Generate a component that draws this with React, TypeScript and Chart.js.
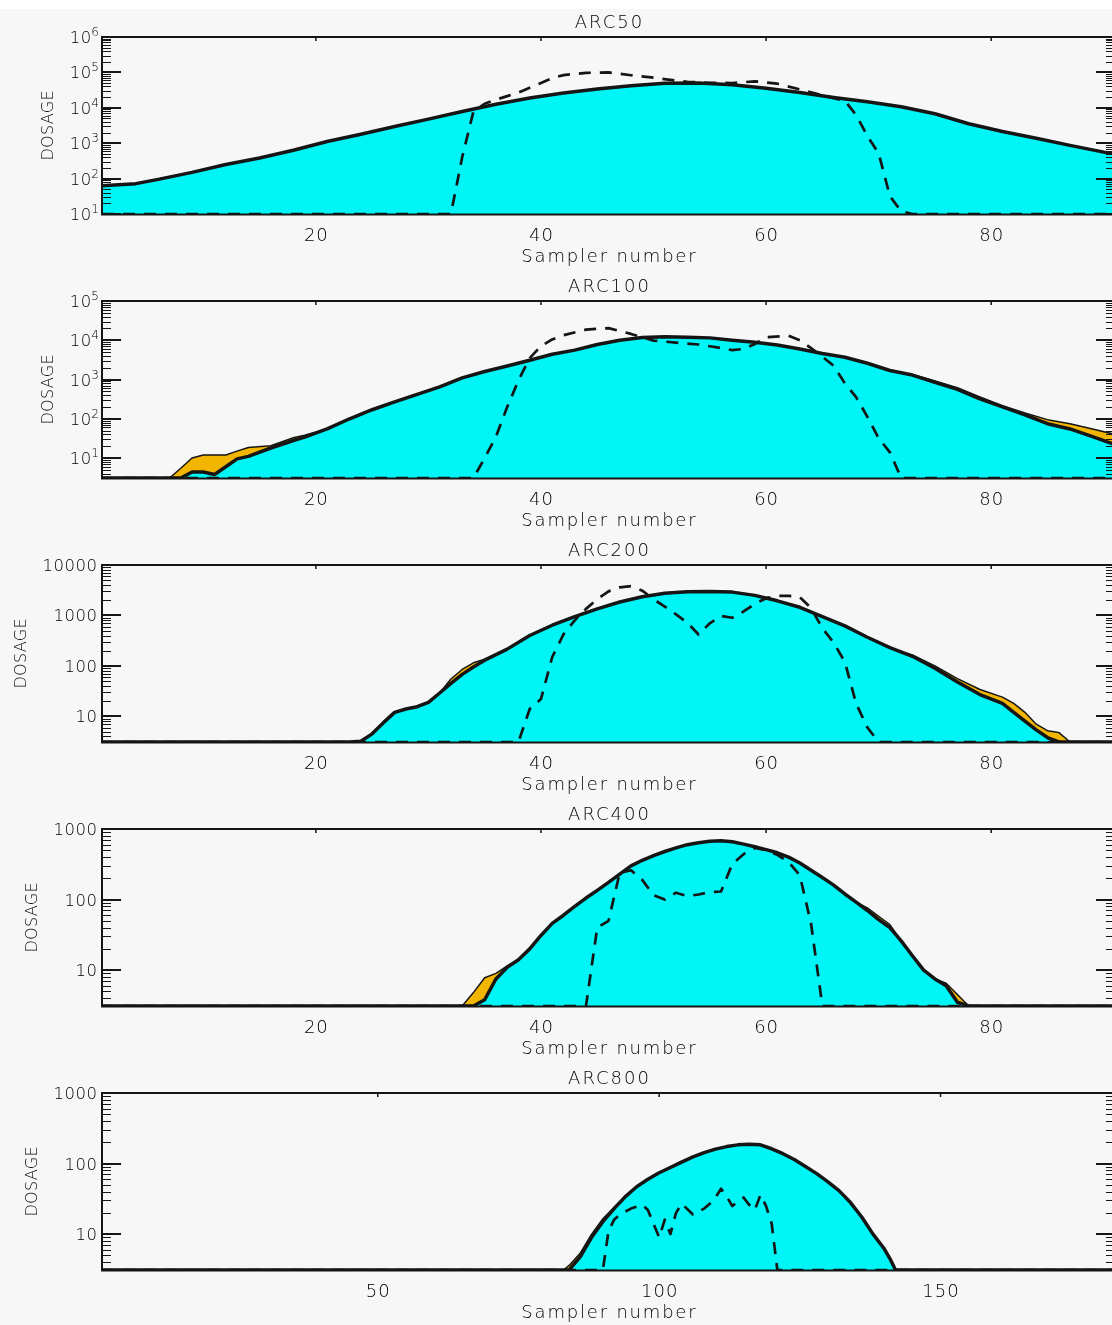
import React, { useEffect, useRef } from "react";
import { Chart, registerables } from "chart.js";

Chart.register(...registerables);

// ---------------- data (sampler number -> dosage; 0 = nothing measured / below axis) ----------------
const xTicksArc = [20, 40, 60, 80];
const xTicksArc800 = [50, 100, 150];

// ARC50
const arc50YTicks = [10, 100, 1000, 10000, 100000, 1000000];
const arc50ModelX = [1, 4, 6, 9, 12, 15, 18, 21, 24, 27, 30, 33, 36, 39, 42, 45, 48, 51, 54, 57, 60, 63, 66, 69, 72, 75, 78, 81, 84, 87, 90, 91];
const arc50ModelY = [63, 72, 95, 150, 250, 380, 630, 1120, 1780, 2950, 4800, 7900, 12600, 19000, 26300, 33900, 41700, 49000, 50100, 44700, 35500, 26900, 19500, 14800, 10700, 6800, 3550, 2140, 1380, 870, 560, 500];
const arc50UpperX = [1, 4, 6, 9, 12, 15, 18, 21, 24, 27, 30, 33, 36, 39, 42, 45, 48, 51, 54, 57, 60, 63, 66, 69, 72, 75, 78, 81, 84, 87, 90, 91];
const arc50UpperY = [64, 73, 97, 152, 255, 385, 640, 1130, 1800, 2980, 4850, 7950, 12700, 19100, 26400, 34000, 41800, 49100, 50200, 44800, 35600, 27000, 19600, 14900, 10800, 6850, 3600, 2170, 1400, 880, 570, 510];
const arc50ObsX = [1, 32, 33, 34, 35, 36, 37, 38, 39, 40, 41, 42, 44, 46, 48, 50, 52, 53, 55, 57, 59, 61, 63, 65, 67, 68, 69, 70, 71, 72, 73, 91];
const arc50ObsY = [0, 0, 400, 7900, 13000, 17000, 21400, 27000, 37000, 50000, 69000, 84000, 97000, 100000, 83000, 71000, 59000, 54000, 51000, 50000, 56000, 48000, 33000, 22400, 15800, 6300, 1600, 520, 32, 12, 0, 0];

// ARC100
const arc100YTicks = [10, 100, 1000, 10000, 100000];
const arc100ModelX = [1, 8, 9, 10, 11, 12, 13, 14, 16, 18, 19, 21, 23, 25, 27, 29, 31, 33, 35, 37, 39, 41, 43, 45, 47, 49, 51, 53, 55, 57, 59, 61, 63, 65, 67, 69, 71, 73, 75, 77, 79, 81, 83, 85, 87, 89, 91];
const arc100ModelY = [0, 0, 4.4, 4.4, 3.8, 6, 9.5, 11, 18, 28, 34, 55, 100, 170, 270, 420, 650, 1100, 1600, 2200, 3100, 4400, 5600, 7800, 10000, 11800, 12300, 12000, 11500, 10000, 8900, 7600, 6000, 4600, 3700, 2600, 1700, 1300, 850, 560, 320, 200, 125, 75, 55, 35, 22];
const arc100UpperX = [1, 7, 8, 9, 10, 12, 13, 14, 16, 17, 18, 19, 21, 23, 25, 27, 29, 31, 33, 35, 37, 39, 41, 43, 45, 47, 49, 51, 53, 55, 57, 59, 61, 63, 65, 67, 69, 71, 73, 75, 77, 79, 81, 83, 85, 87, 89, 91];
const arc100UpperY = [0, 0, 5.5, 10, 12, 12, 15, 18.6, 20.5, 26, 33, 38, 55, 100, 170, 270, 420, 650, 1100, 1600, 2200, 3100, 4400, 5600, 7800, 10000, 11800, 12300, 12000, 11500, 10000, 8900, 7600, 6000, 4600, 3700, 2600, 1700, 1350, 920, 620, 360, 215, 140, 95, 75, 55, 40];
const arc100ObsX = [1, 34, 35, 36, 37, 38, 39, 40, 41, 42, 44, 46, 48, 50, 52, 54, 56, 57, 58, 59, 60, 62, 63, 64, 65, 66, 67, 68, 69, 70, 71, 72, 91];
const arc100ObsY = [0, 0, 10, 35, 200, 950, 3500, 7100, 10500, 13500, 18600, 20400, 14500, 9800, 8700, 7800, 6300, 5600, 6000, 8000, 12000, 13000, 10000, 6300, 3800, 2240, 800, 355, 112, 32, 14, 0, 0];

// ARC200
const arc200YTicks = [10, 100, 1000, 10000];
const arc200ModelX = [1, 23, 24, 25, 26, 27, 28, 29, 30, 31, 32, 33, 34, 35, 37, 39, 41, 43, 45, 47, 49, 51, 53, 55, 57, 59, 61, 63, 65, 67, 69, 71, 73, 75, 77, 79, 81, 82, 83, 84, 85, 86, 91];
const arc200ModelY = [0, 0, 3.2, 4.5, 7.5, 12, 14, 15.5, 19, 29, 45, 68, 95, 130, 215, 400, 640, 950, 1350, 1850, 2350, 2750, 2950, 3000, 2900, 2500, 1950, 1450, 950, 620, 370, 230, 155, 90, 48, 27, 18, 12, 8, 5.4, 3.8, 0, 0];
const arc200UpperX = [1, 23, 24, 25, 26, 27, 28, 29, 30, 31, 32, 33, 34, 35, 37, 39, 41, 43, 45, 47, 49, 51, 53, 55, 57, 59, 61, 63, 65, 67, 69, 71, 73, 75, 77, 79, 81, 82, 83, 84, 85, 86, 87, 91];
const arc200UpperY = [0, 0, 3.2, 4.5, 7.5, 12, 14, 15.5, 19, 29, 55, 85, 115, 135, 215, 400, 640, 950, 1350, 1850, 2350, 2750, 2950, 3000, 2900, 2500, 1950, 1450, 950, 620, 370, 230, 165, 100, 56, 34, 24, 18, 12, 7, 5.2, 4.8, 0, 0];
const arc200ObsX = [1, 38, 39, 40, 41, 42, 43, 44, 45, 46, 47, 48, 49, 50, 51, 52, 53, 54, 55, 56, 57, 58, 59, 60, 61, 62, 63, 64, 65, 66, 67, 68, 69, 70, 91];
const arc200ObsY = [0, 0, 14, 22, 150, 420, 800, 1350, 2100, 3000, 3600, 3800, 3100, 2100, 1500, 1050, 720, 420, 700, 980, 900, 1200, 1700, 2200, 2450, 2450, 2300, 1400, 560, 290, 120, 18, 6, 0, 0];

// ARC400
const arc400YTicks = [10, 100, 1000];
const arc400ModelX = [1, 34, 35, 36, 37, 38, 39, 40, 41, 42, 43, 44, 45, 46, 47, 48, 49, 50, 51, 52, 53, 54, 55, 56, 57, 58, 59, 60, 61, 62, 63, 64, 65, 66, 67, 68, 69, 70, 71, 72, 73, 74, 75, 76, 77, 78, 91];
const arc400ModelY = [0, 0, 3.8, 7.5, 11, 14, 20, 31, 46, 60, 80, 105, 135, 175, 230, 300, 360, 420, 480, 540, 600, 640, 670, 680, 660, 610, 560, 510, 460, 400, 330, 260, 205, 160, 120, 92, 70, 52, 40, 26, 16, 10, 7.5, 6, 3.5, 0, 0];
const arc400UpperX = [1, 33, 34, 35, 36, 37, 38, 39, 40, 41, 42, 43, 44, 45, 46, 47, 48, 49, 50, 51, 52, 53, 54, 55, 56, 57, 58, 59, 60, 61, 62, 63, 64, 65, 66, 67, 68, 69, 70, 71, 72, 73, 74, 75, 76, 77, 78, 91];
const arc400UpperY = [0, 0, 4.8, 7.8, 9, 11.5, 14, 20, 31, 46, 60, 80, 105, 135, 175, 230, 300, 360, 420, 480, 540, 600, 640, 670, 680, 660, 610, 560, 510, 460, 400, 330, 260, 205, 160, 120, 92, 76, 58, 44, 26, 16, 10, 7.5, 6.5, 4.5, 0, 0];
const arc400ObsX = [1, 44, 45, 46, 47, 48, 49, 50, 51, 52, 53, 54, 55, 56, 57, 58, 59, 60, 61, 62, 63, 64, 65, 91];
const arc400ObsY = [0, 0, 40, 50, 240, 260, 190, 115, 100, 125, 112, 118, 128, 130, 320, 440, 540, 500, 430, 340, 220, 45, 0, 0];

// ARC800
const arc800YTicks = [10, 100, 1000];
const arc800ModelX = [1, 84, 86, 88, 90, 92, 94, 96, 98, 100, 102, 104, 106, 108, 110, 112, 114, 116, 118, 120, 122, 124, 126, 128, 130, 132, 134, 136, 138, 140, 141, 142, 181];
const arc800ModelY = [0, 0, 4.8, 9, 15, 23, 34, 47, 60, 74, 88, 105, 124, 143, 160, 174, 184, 188, 184, 162, 138, 114, 91, 72, 55, 41, 28, 17.5, 10, 6.2, 4.5, 0, 0];
const arc800UpperX = [1, 83, 84, 86, 88, 90, 92, 94, 96, 98, 100, 102, 104, 106, 108, 110, 112, 114, 116, 118, 120, 122, 124, 126, 128, 130, 132, 134, 136, 138, 140, 141, 142, 181];
const arc800UpperY = [0, 0, 3.6, 5.4, 10, 16.5, 24, 35, 47, 60, 74, 90, 108, 124, 143, 160, 174, 184, 188, 184, 162, 138, 114, 91, 72, 55, 41, 28, 17.5, 10, 6.2, 4.5, 0, 0];
const arc800ObsX = [1, 90, 91, 92, 93, 95, 97, 98, 99, 100, 101, 102, 103, 104, 106, 108, 109, 110, 111, 112, 113, 114, 115, 116, 117, 118, 119, 120, 121, 181];
const arc800ObsY = [0, 0, 11, 16, 19, 23, 26, 22, 14, 9, 16, 10, 20, 27, 19, 23, 27, 33, 44, 34, 25, 29, 33, 26, 22, 36, 25, 14, 0, 0];

// ---------------- panel definitions ----------------
type Panel = {
  title: string;
  xMin: number;
  xMax: number;
  yMin: number;
  yMax: number;
  xTicks: number[];
  yTicks: number[];
  supLabels: boolean;
  modelX: number[];
  modelY: number[];
  upperX: number[];
  upperY: number[];
  obsX: number[];
  obsY: number[];
};

const PANELS: Panel[] = [
  { title: "ARC50", xMin: 1, xMax: 91, yMin: 10, yMax: 1e6, xTicks: xTicksArc, yTicks: arc50YTicks, supLabels: true,
    modelX: arc50ModelX, modelY: arc50ModelY, upperX: arc50UpperX, upperY: arc50UpperY, obsX: arc50ObsX, obsY: arc50ObsY },
  { title: "ARC100", xMin: 1, xMax: 91, yMin: 3.1, yMax: 1e5, xTicks: xTicksArc, yTicks: arc100YTicks, supLabels: true,
    modelX: arc100ModelX, modelY: arc100ModelY, upperX: arc100UpperX, upperY: arc100UpperY, obsX: arc100ObsX, obsY: arc100ObsY },
  { title: "ARC200", xMin: 1, xMax: 91, yMin: 3.1, yMax: 1e4, xTicks: xTicksArc, yTicks: arc200YTicks, supLabels: false,
    modelX: arc200ModelX, modelY: arc200ModelY, upperX: arc200UpperX, upperY: arc200UpperY, obsX: arc200ObsX, obsY: arc200ObsY },
  { title: "ARC400", xMin: 1, xMax: 91, yMin: 3.1, yMax: 1e3, xTicks: xTicksArc, yTicks: arc400YTicks, supLabels: false,
    modelX: arc400ModelX, modelY: arc400ModelY, upperX: arc400UpperX, upperY: arc400UpperY, obsX: arc400ObsX, obsY: arc400ObsY },
  { title: "ARC800", xMin: 1, xMax: 181, yMin: 3.1, yMax: 1e3, xTicks: xTicksArc800, yTicks: arc800YTicks, supLabels: false,
    modelX: arc800ModelX, modelY: arc800ModelY, upperX: arc800UpperX, upperY: arc800UpperY, obsX: arc800ObsX, obsY: arc800ObsY },
];

const CYAN = "rgb(0,246,246)";
const ORANGE = "rgb(243,182,0)";
const INK = "#151515";
const TEXT_INK = "#000000";
const BG = "#f7f7f7";
const FONT = '"DejaVu Sans", sans-serif';
const WEIGHT = "200";

const CANVAS_W = 1120;
const CANVAS_H = 264;

function toPoints(xs: number[], ys: number[], floor: number) {
  return xs.map((x, i) => ({ x, y: ys[i] > floor ? ys[i] : floor }));
}

function setFont(ctx: CanvasRenderingContext2D, size: number, spacing: number) {
  ctx.font = `${WEIGHT} ${size}px ${FONT}`;
  (ctx as any).letterSpacing = `${spacing}px`;
}

function drawText(
  ctx: CanvasRenderingContext2D,
  s: string,
  x: number,
  y: number,
  size: number,
  align: CanvasTextAlign,
  spacing: number
) {
  setFont(ctx, size, spacing);
  ctx.fillStyle = TEXT_INK;
  ctx.textAlign = align;
  ctx.textBaseline = "alphabetic";
  const shift = align === "center" ? spacing / 2 : align === "right" ? spacing : 0;
  ctx.fillText(s, x + shift, y);
  (ctx as any).letterSpacing = "0px";
}

function measure(ctx: CanvasRenderingContext2D, s: string, size: number, spacing: number) {
  setFont(ctx, size, spacing);
  const w = ctx.measureText(s).width;
  (ctx as any).letterSpacing = "0px";
  return w;
}

function makeIdlPlugin(p: Panel) {
  return {
    id: "idlAxes",
    afterDatasetsDraw(chart: any) {
      const ctx = chart.ctx as CanvasRenderingContext2D;
      const a = chart.chartArea;
      const xs = chart.scales.x;
      const ys = chart.scales.y;
      ctx.save();
      ctx.strokeStyle = INK;
      ctx.fillStyle = INK;
      ctx.lineCap = "butt";

      // frame
      ctx.lineWidth = 2;
      ctx.beginPath();
      ctx.moveTo(a.left, a.bottom);
      ctx.lineTo(a.left, a.top);
      ctx.lineTo(a.right, a.top);
      ctx.lineTo(a.right, a.bottom);
      ctx.stroke();
      ctx.lineWidth = 2;
      ctx.beginPath();
      ctx.moveTo(a.left - 1, a.bottom + 0.5);
      ctx.lineTo(a.right + 1, a.bottom + 0.5);
      ctx.stroke();

      // y ticks (inward, both sides), log minor ticks
      const e0 = Math.floor(Math.log10(p.yMin));
      const e1 = Math.floor(Math.log10(p.yMax));
      for (let e = e0; e <= e1; e++) {
        for (let k = 1; k <= 9; k++) {
          const v = k * Math.pow(10, e);
          if (v < p.yMin * 0.9999 || v > p.yMax * 1.0001) continue;
          const y = ys.getPixelForValue(v);
          const major = k === 1;
          const len = major ? 19 : 9;
          ctx.lineWidth = major ? 2 : 1;
          const yy = major ? Math.round(y) : Math.round(y) + 0.5;
          ctx.beginPath();
          ctx.moveTo(a.left, yy);
          ctx.lineTo(a.left + len, yy);
          ctx.moveTo(a.right, yy);
          ctx.lineTo(a.right - len, yy);
          ctx.stroke();
        }
      }

      // x ticks on the top axis
      ctx.lineWidth = 1.5;
      for (const v of p.xTicks) {
        const x = xs.getPixelForValue(v);
        ctx.beginPath();
        ctx.moveTo(x, a.top);
        ctx.lineTo(x, a.top + 4);
        ctx.stroke();
      }

      // y tick labels
      const baseSize = 16.5;
      const supSize = 12;
      const labelRight = a.left - 5;
      let minLeft = labelRight;
      for (const v of p.yTicks) {
        const y = ys.getPixelForValue(v);
        if (p.supLabels) {
          const exp = String(Math.round(Math.log10(v)));
          const supW = measure(ctx, exp, supSize, 0);
          const right = labelRight + 2;
          drawText(ctx, exp, right - supW, y - 1, supSize, "left", 0);
          const baseW = measure(ctx, "10", baseSize, 0.5);
          drawText(ctx, "10", right - supW, y + 6, baseSize, "right", 0.5);
          minLeft = Math.min(minLeft, right - supW - baseW);
        } else {
          const s = String(v);
          const w = measure(ctx, s, baseSize, 0.5);
          drawText(ctx, s, labelRight, y + 6, baseSize, "right", 0.5);
          minLeft = Math.min(minLeft, labelRight - w);
        }
      }

      // x tick labels
      for (const v of p.xTicks) {
        const x = xs.getPixelForValue(v);
        drawText(ctx, String(v), x, a.bottom + 27, 18, "center", 1);
      }

      // axis titles and panel title
      const cx = (a.left + a.right) / 2;
      drawText(ctx, "Sampler number", cx, a.bottom + 48, 18, "center", 1.8);
      drawText(ctx, p.title, cx, a.top - 9, 18, "center", 2);

      ctx.save();
      ctx.translate(minLeft - 22, (a.top + a.bottom) / 2);
      ctx.rotate(-Math.PI / 2);
      drawText(ctx, "DOSAGE", 0, 6, 16, "center", 0.3);
      ctx.restore();

      ctx.restore();
    },
  };
}

function PanelChart({ panel }: { panel: Panel }) {
  const ref = useRef<HTMLCanvasElement | null>(null);
  useEffect(() => {
    if (!ref.current) return;
    const floor = panel.yMin;
    const chart = new Chart(ref.current, {
      type: "line",
      data: {
        datasets: [
          {
            label: "observed",
            data: toPoints(panel.obsX, panel.obsY, floor),
            borderColor: INK,
            borderWidth: 2.7,
            borderDash: [12, 9],
            fill: false,
            pointRadius: 0,
            order: 1,
          },
          {
            label: "model",
            data: toPoints(panel.modelX, panel.modelY, floor),
            borderColor: INK,
            borderWidth: 3.5,
            backgroundColor: CYAN,
            fill: "start",
            pointRadius: 0,
            order: 2,
          },
          {
            label: "upper",
            data: toPoints(panel.upperX, panel.upperY, floor),
            borderColor: INK,
            borderWidth: 1.5,
            backgroundColor: ORANGE,
            fill: "start",
            pointRadius: 0,
            order: 3,
          },
        ] as any,
      },
      options: {
        animation: false,
        responsive: false,
        devicePixelRatio: 1,
        events: [],
        layout: { padding: { left: 102, right: CANVAS_W - 1115, top: 28, bottom: CANVAS_H - 28 - 177 } },
        elements: { line: { tension: 0, borderJoinStyle: "round" }, point: { radius: 0 } },
        scales: {
          x: { type: "linear", min: panel.xMin, max: panel.xMax, display: false },
          y: { type: "logarithmic", min: panel.yMin, max: panel.yMax, display: false },
        },
        plugins: {
          legend: { display: false },
          tooltip: { enabled: false },
          title: { display: false },
        },
      } as any,
      plugins: [makeIdlPlugin(panel) as any],
    });
    return () => chart.destroy();
  }, [panel]);
  return (
    <canvas
      ref={ref}
      width={CANVAS_W}
      height={CANVAS_H}
      style={{ display: "block", width: CANVAS_W, height: CANVAS_H }}
    />
  );
}

export default function App() {
  return (
    <div
      style={{
        position: "absolute",
        left: 0,
        top: 9,
        width: 1112,
        height: 1316,
        overflow: "hidden",
        background: BG,
      }}
    >
      {PANELS.map((p) => (
        <PanelChart key={p.title} panel={p} />
      ))}
    </div>
  );
}
